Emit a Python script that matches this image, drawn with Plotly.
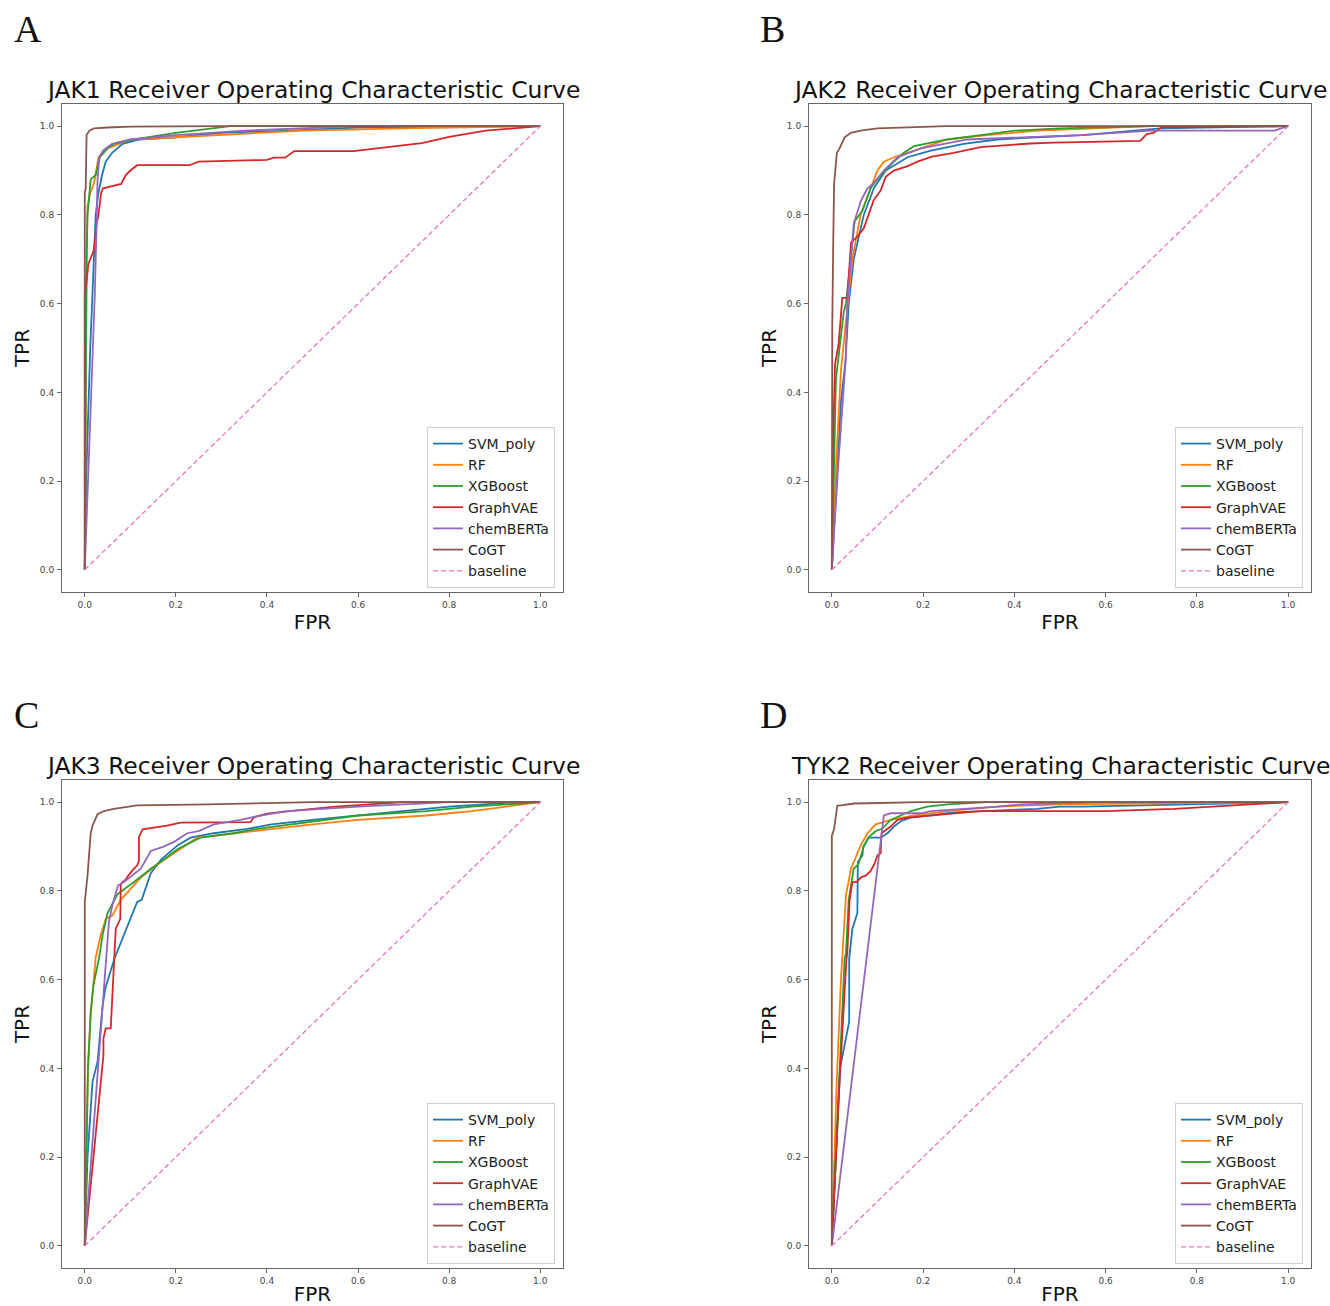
import plotly.graph_objects as go

# ---------------- data ----------------
models = ["SVM_poly", "RF", "XGBoost", "GraphVAE", "chemBERTa", "CoGT"]
colors = ["#1f77b4", "#ff7f0e", "#2ca02c", "#d62728", "#9467bd", "#8c564b"]
panel_titles = ["JAK1 Receiver Operating Characteristic Curve",
                "JAK2 Receiver Operating Characteristic Curve",
                "JAK3 Receiver Operating Characteristic Curve",
                "TYK2 Receiver Operating Characteristic Curve"]
panel_letters = ["A", "B", "C", "D"]
tick_vals = [0.0, 0.2, 0.4, 0.6, 0.8, 1.0]
tick_text = ["0.0", "0.2", "0.4", "0.6", "0.8", "1.0"]
baseline_x = [0.0, 1.0]
baseline_y = [0.0, 1.0]

# JAK1
jak1_svm_fpr = [0, 0.003, 0.012, 0.018, 0.024, 0.03, 0.038, 0.046, 0.06, 0.083, 0.12, 0.2, 0.3, 0.45, 0.6, 1.0]
jak1_svm_tpr = [0, 0.2, 0.5, 0.65, 0.8, 0.85, 0.89, 0.92, 0.94, 0.96, 0.97, 0.975, 0.985, 0.99, 0.997, 1.0]
jak1_rf_fpr = [0, 0.002, 0.004, 0.006, 0.012, 0.02, 0.03, 0.05, 0.1, 0.2, 0.3, 0.4, 0.48, 0.7, 1.0]
jak1_rf_tpr = [0, 0.5, 0.7, 0.82, 0.85, 0.87, 0.93, 0.95, 0.97, 0.975, 0.98, 0.985, 0.99, 0.995, 1.0]
jak1_xgb_fpr = [0, 0.002, 0.004, 0.006, 0.013, 0.024, 0.033, 0.05, 0.064, 0.108, 0.2, 0.32, 1.0]
jak1_xgb_tpr = [0, 0.5, 0.7, 0.8, 0.88, 0.89, 0.93, 0.95, 0.96, 0.97, 0.985, 1.0, 1.0]
jak1_gvae_fpr = [0, 0, 0.004, 0.008, 0.012, 0.02, 0.026, 0.03, 0.036, 0.04, 0.06, 0.08, 0.09, 0.1, 0.115,
                 0.23, 0.25, 0.36, 0.40, 0.415, 0.44, 0.46, 0.59, 0.74, 0.80, 0.88, 1.0]
jak1_gvae_tpr = [0, 0.62, 0.65, 0.69, 0.70, 0.72, 0.78, 0.80, 0.85, 0.86, 0.865, 0.87, 0.89, 0.90, 0.912,
                 0.912, 0.92, 0.924, 0.924, 0.929, 0.929, 0.944, 0.944, 0.962, 0.976, 0.99, 1.0]
jak1_bert_fpr = [0, 0.022, 0.026, 0.028, 0.032, 0.04, 0.06, 0.1, 0.2, 0.35, 0.6, 1.0]
jak1_bert_tpr = [0, 0.62, 0.78, 0.88, 0.93, 0.945, 0.96, 0.97, 0.98, 0.99, 1.0, 1.0]
jak1_cogt_fpr = [0, 0, 0.002, 0.004, 0.01, 0.02, 0.05, 0.1, 0.3, 1.0]
jak1_cogt_tpr = [0, 0.85, 0.86, 0.98, 0.99, 0.995, 0.997, 0.999, 1.0, 1.0]

# JAK2
jak2_svm_fpr = [0, 0.01, 0.02, 0.03, 0.037, 0.048, 0.07, 0.092, 0.118, 0.166, 0.217, 0.289, 0.363, 0.45, 0.55, 0.72, 1.0]
jak2_svm_tpr = [0, 0.2, 0.38, 0.47, 0.6, 0.7, 0.8, 0.86, 0.9, 0.93, 0.945, 0.96, 0.97, 0.975, 0.98, 0.995, 1.0]
jak2_rf_fpr = [0, 0.01, 0.02, 0.03, 0.034, 0.045, 0.063, 0.081, 0.1, 0.114, 0.136, 0.195, 0.253, 0.34, 0.45, 0.7, 1.0]
jak2_rf_tpr = [0, 0.25, 0.45, 0.55, 0.6, 0.7, 0.8, 0.85, 0.9, 0.92, 0.93, 0.95, 0.97, 0.98, 0.99, 1.0, 1.0]
jak2_xgb_fpr = [0, 0.009, 0.026, 0.031, 0.05, 0.067, 0.085, 0.1, 0.136, 0.158, 0.18, 0.253, 0.326, 0.4, 0.5, 0.7, 1.0]
jak2_xgb_tpr = [0, 0.43, 0.58, 0.6, 0.785, 0.81, 0.86, 0.88, 0.92, 0.94, 0.955, 0.97, 0.98, 0.99, 0.995, 1.0, 1.0]
jak2_gvae_fpr = [0, 0.003, 0.007, 0.015, 0.023, 0.034, 0.042, 0.055, 0.07, 0.092, 0.107, 0.118, 0.136, 0.166,
                 0.188, 0.217, 0.267, 0.326, 0.435, 0.486, 0.676, 0.69, 0.705, 0.724, 1.0]
jak2_gvae_tpr = [0, 0.3, 0.463, 0.51, 0.613, 0.613, 0.738, 0.75, 0.77, 0.834, 0.855, 0.886, 0.9, 0.91,
                 0.92, 0.931, 0.94, 0.953, 0.961, 0.963, 0.967, 0.982, 0.985, 0.998, 1.0]
jak2_bert_fpr = [0, 0.015, 0.03, 0.034, 0.048, 0.063, 0.078, 0.09, 0.114, 0.144, 0.195, 0.297, 0.545, 0.7, 0.97, 1.0]
jak2_bert_tpr = [0, 0.25, 0.467, 0.6, 0.78, 0.83, 0.86, 0.87, 0.9, 0.93, 0.95, 0.97, 0.98, 0.99, 0.99, 1.0]
jak2_cogt_fpr = [0, 0.001, 0.003, 0.005, 0.011, 0.017, 0.028, 0.042, 0.063, 0.1, 0.25, 1.0]
jak2_cogt_tpr = [0, 0.55, 0.73, 0.87, 0.94, 0.95, 0.975, 0.985, 0.99, 0.995, 1.0, 1.0]

# JAK3
jak3_svm_fpr = [0, 0.006, 0.017, 0.028, 0.039, 0.045, 0.065, 0.115, 0.125, 0.145, 0.167, 0.203, 0.232, 0.283,
                0.357, 0.41, 0.5, 0.6, 0.7, 0.8, 0.95, 1.0]
jak3_svm_tpr = [0, 0.2, 0.37, 0.415, 0.54, 0.58, 0.647, 0.775, 0.78, 0.84, 0.87, 0.902, 0.92, 0.93,
                0.94, 0.95, 0.96, 0.97, 0.98, 0.99, 1.0, 1.0]
jak3_rf_fpr = [0, 0.003, 0.007, 0.013, 0.019, 0.024, 0.035, 0.046, 0.061, 0.079, 0.123, 0.16, 0.203, 0.247,
               0.33, 0.41, 0.5, 0.6, 0.75, 0.85, 1.0]
jak3_rf_tpr = [0, 0.2, 0.4, 0.52, 0.6, 0.65, 0.7, 0.737, 0.745, 0.78, 0.83, 0.86, 0.89, 0.92,
               0.93, 0.94, 0.95, 0.96, 0.97, 0.98, 1.0]
jak3_xgb_fpr = [0, 0.004, 0.007, 0.013, 0.019, 0.031, 0.039, 0.05, 0.072, 0.108, 0.145, 0.173, 0.203, 0.254,
                0.327, 0.379, 0.452, 0.6, 0.75, 0.85, 1.0]
jak3_xgb_tpr = [0, 0.2, 0.4, 0.527, 0.587, 0.647, 0.7, 0.75, 0.793, 0.82, 0.85, 0.87, 0.894, 0.92,
                0.93, 0.94, 0.95, 0.97, 0.98, 0.99, 1.0]
jak3_gvae_fpr = [0, 0.037, 0.041, 0.041, 0.046, 0.057, 0.063, 0.068, 0.078, 0.079, 0.09, 0.095, 0.108, 0.115,
                 0.119, 0.119, 0.127, 0.152, 0.181, 0.21, 0.364, 0.371, 0.4, 0.45, 0.55, 0.7, 1.0]
jak3_gvae_tpr = [0, 0.4, 0.43, 0.467, 0.49, 0.49, 0.61, 0.715, 0.737, 0.816, 0.826, 0.834, 0.85, 0.857,
                 0.868, 0.921, 0.939, 0.943, 0.947, 0.954, 0.955, 0.966, 0.974, 0.98, 0.99, 1.0, 1.0]
jak3_bert_fpr = [0, 0.028, 0.039, 0.047, 0.053, 0.061, 0.073, 0.086, 0.123, 0.145, 0.173, 0.195, 0.225, 0.25,
                 0.283, 0.342, 0.386, 0.444, 0.6, 0.8, 1.0]
jak3_bert_tpr = [0, 0.393, 0.535, 0.647, 0.73, 0.77, 0.812, 0.82, 0.85, 0.89, 0.9, 0.91, 0.93, 0.935,
                 0.95, 0.96, 0.97, 0.98, 0.99, 1.0, 1.0]
jak3_cogt_fpr = [0, 0, 0.006, 0.01, 0.013, 0.017, 0.028, 0.042, 0.064, 0.115, 0.27, 0.5, 1.0]
jak3_cogt_tpr = [0, 0.775, 0.834, 0.898, 0.93, 0.947, 0.973, 0.98, 0.985, 0.993, 0.995, 1.0, 1.0]

# TYK2
tyk2_svm_fpr = [0, 0.018, 0.038, 0.038, 0.045, 0.056, 0.057, 0.067, 0.069, 0.081, 0.107, 0.122, 0.136, 0.151,
                0.173, 0.21, 0.268, 0.45, 0.5, 0.55, 1.0]
tyk2_svm_tpr = [0, 0.4, 0.505, 0.647, 0.715, 0.75, 0.865, 0.88, 0.9, 0.92, 0.92, 0.93, 0.945, 0.957,
                0.965, 0.97, 0.977, 0.985, 0.99, 0.99, 1.0]
tyk2_rf_fpr = [0, 0.01, 0.02, 0.023, 0.031, 0.042, 0.063, 0.078, 0.096, 0.129, 0.18, 0.253, 0.363, 0.5, 0.9, 1.0]
tyk2_rf_tpr = [0, 0.35, 0.6, 0.647, 0.79, 0.85, 0.902, 0.93, 0.95, 0.96, 0.97, 0.98, 0.99, 0.995, 1.0, 1.0]
tyk2_xgb_fpr = [0, 0.015, 0.028, 0.031, 0.037, 0.048, 0.058, 0.07, 0.08, 0.096, 0.11, 0.129, 0.151, 0.173,
                0.209, 0.253, 0.34, 1.0]
tyk2_xgb_tpr = [0, 0.35, 0.647, 0.66, 0.78, 0.85, 0.86, 0.9, 0.92, 0.935, 0.94, 0.96, 0.97, 0.98,
                0.99, 0.995, 1.0, 1.0]
tyk2_gvae_fpr = [0, 0.016, 0.032, 0.034, 0.039, 0.045, 0.055, 0.063, 0.075, 0.085, 0.093, 0.1, 0.107, 0.109,
                 0.129, 0.144, 0.166, 0.217, 0.268, 0.326, 0.6, 0.75, 1.0]
tyk2_gvae_tpr = [0, 0.35, 0.647, 0.66, 0.78, 0.82, 0.82, 0.83, 0.835, 0.845, 0.86, 0.88, 0.885, 0.93,
                 0.945, 0.96, 0.965, 0.97, 0.975, 0.98, 0.98, 0.985, 1.0]
tyk2_bert_fpr = [0, 0.114, 0.129, 0.195, 0.217, 0.297, 0.363, 0.414, 0.6, 1.0]
tyk2_bert_tpr = [0, 0.97, 0.975, 0.975, 0.98, 0.985, 0.99, 0.995, 1.0, 1.0]
tyk2_cogt_fpr = [0, 0, 0.005, 0.012, 0.02, 0.049, 0.195, 1.0]
tyk2_cogt_tpr = [0, 0.924, 0.94, 0.992, 0.993, 0.997, 1.0, 1.0]

panels = [
    [(jak1_svm_fpr, jak1_svm_tpr), (jak1_rf_fpr, jak1_rf_tpr), (jak1_xgb_fpr, jak1_xgb_tpr),
     (jak1_gvae_fpr, jak1_gvae_tpr), (jak1_bert_fpr, jak1_bert_tpr), (jak1_cogt_fpr, jak1_cogt_tpr)],
    [(jak2_svm_fpr, jak2_svm_tpr), (jak2_rf_fpr, jak2_rf_tpr), (jak2_xgb_fpr, jak2_xgb_tpr),
     (jak2_gvae_fpr, jak2_gvae_tpr), (jak2_bert_fpr, jak2_bert_tpr), (jak2_cogt_fpr, jak2_cogt_tpr)],
    [(jak3_svm_fpr, jak3_svm_tpr), (jak3_rf_fpr, jak3_rf_tpr), (jak3_xgb_fpr, jak3_xgb_tpr),
     (jak3_gvae_fpr, jak3_gvae_tpr), (jak3_bert_fpr, jak3_bert_tpr), (jak3_cogt_fpr, jak3_cogt_tpr)],
    [(tyk2_svm_fpr, tyk2_svm_tpr), (tyk2_rf_fpr, tyk2_rf_tpr), (tyk2_xgb_fpr, tyk2_xgb_tpr),
     (tyk2_gvae_fpr, tyk2_gvae_tpr), (tyk2_bert_fpr, tyk2_bert_tpr), (tyk2_cogt_fpr, tyk2_cogt_tpr)],
]

# ---------------- layout geometry (page pixels; body margin removed below) ----------------
W, H = 1330, 1306
col_x = [(62, 563), (809, 1311)]
row_y = [(104, 592), (780, 1268)]
FONT = "DejaVu Sans"


def px(x):
    return x / W


def py(y):
    return 1 - y / H


fig = go.Figure()
layout = dict(width=W, height=H, margin=dict(l=0, r=0, t=0, b=0),
              paper_bgcolor="white", plot_bgcolor="white",
              font=dict(family=FONT, color="#222"), showlegend=True)
annotations = []

for i in range(4):
    r, c = divmod(i, 2)
    x0, x1 = col_x[c]
    y0, y1 = row_y[r]
    sfx = "" if i == 0 else str(i + 1)
    xa, ya = "x" + sfx, "y" + sfx
    leg = "legend" if i == 0 else "legend" + str(i + 1)
    for m, (fx, ty) in enumerate(panels[i]):
        fig.add_trace(go.Scatter(x=fx, y=ty, mode="lines", name=models[m],
                                 line=dict(color=colors[m], width=1.8),
                                 xaxis=xa, yaxis=ya, legend=leg))
    fig.add_trace(go.Scatter(x=baseline_x, y=baseline_y, mode="lines", name="baseline",
                             line=dict(color="#e377c2", width=1.3, dash="5px,3px"),
                             xaxis=xa, yaxis=ya, legend=leg))
    axis_common = dict(range=[-0.05, 1.05], tickvals=tick_vals, ticktext=tick_text,
                       showgrid=False, zeroline=False, showline=True, mirror=True,
                       linecolor="#666", linewidth=1, ticks="outside", ticklen=4,
                       tickcolor="#666", tickfont=dict(size=9, color="#444", family=FONT))
    layout["xaxis" + sfx] = dict(axis_common, domain=[px(x0), px(x1)], anchor=ya,
                                 title=dict(text="FPR", font=dict(size=20, color="#111"), standoff=6))
    layout["yaxis" + sfx] = dict(axis_common, domain=[py(y1), py(y0)], anchor=xa,
                                 ticklabelstandoff=1,
                                 title=dict(text="TPR", font=dict(size=20, color="#111"), standoff=4))
    layout[leg] = dict(x=px(x1 - 8), y=py(y1 - 4), xanchor="right", yanchor="bottom",
                       xref="paper", yref="paper",
                       bgcolor="rgba(255,255,255,0.8)", bordercolor="#d0d0d0", borderwidth=1,
                       font=dict(size=14, family=FONT, color="#222"), itemwidth=30,
                       tracegroupgap=0)
    annotations.append(dict(text=panel_titles[i], x=px((x0 + x1) / 2), y=py(y0 + 2),
                            xref="paper", yref="paper", xanchor="center", yanchor="bottom",
                            showarrow=False, font=dict(size=23.4, family=FONT, color="#111")))
    annotations.append(dict(text=panel_letters[i], x=px(12 if c == 0 else 758),
                            y=py(6 if r == 0 else 692),
                            xref="paper", yref="paper", xanchor="left", yanchor="top",
                            showarrow=False,
                            font=dict(size=38, family="Liberation Serif", color="#111")))

layout["annotations"] = annotations
fig.update_layout(**layout)
fig.write_html(
    "out.html",
    config={"displayModeBar": False},
    post_script=("document.body.style.margin='0';"
                 "document.body.style.overflow='hidden';"
                 "document.documentElement.style.overflow='hidden';"),
)
